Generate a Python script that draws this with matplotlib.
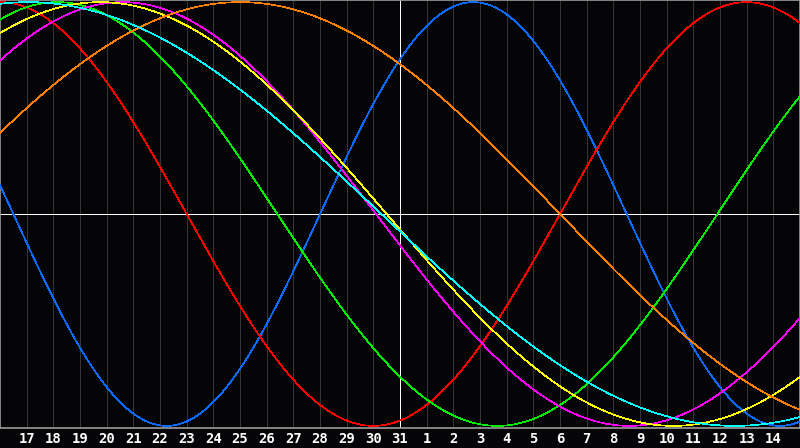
import numpy as np
import matplotlib
matplotlib.use("Agg")
import matplotlib.pyplot as plt

# biorhythm cycles: period in days and position in the cycle on the centre day (31)
cycles = ["Physical", "Emotional", "Intellectual", "Intuitive", "Aesthetic", "Awareness", "Spiritual"]
periods = [23, 28, 33, 38, 43, 48, 53]
phase_at_centre = [3.0, 22.0, 21.1, 19.9, 22.0, 18.0, 27.2]
colors = ["#0a6cff", "#ff0000", "#00ee00", "#ff00ff", "#ffff00", "#ff8000", "#00ffff"]

# day labels, from 14 days before to 14 days after the centre day
day_labels = [17, 18, 19, 20, 21, 22, 23, 24, 25, 26, 27, 28, 29, 30, 31,
              1, 2, 3, 4, 5, 6, 7, 8, 9, 10, 11, 12, 13, 14]
day_offsets = np.arange(-14, 15)

bg = "#050508"
px = 72 / 100  # one pixel in points
fig = plt.figure(figsize=(8, 4.48), dpi=100, facecolor=bg)
ax = fig.add_axes([0, 20 / 448, 1, 428 / 448], facecolor=bg)

# vertical day grid
for d in day_offsets:
    if d != 0:
        ax.axvline(d, color="#353535", lw=px, zorder=1, antialiased=False)
ax.axvline(0, color="white", lw=px, zorder=2, antialiased=False)
ax.axhline(0, color="white", lw=px, zorder=2, antialiased=False)

t = np.linspace(-15, 15, 1600)
for name, p, ph, c in zip(cycles, periods, phase_at_centre, colors):
    ax.plot(t, np.sin(2 * np.pi * (t + ph) / p), color=c, lw=0.5,
            label=name, zorder=3, antialiased=False)

ax.set_xlim(-15, 15)
ax.set_ylim(-1.01, 1.01)
ax.set_yticks([])
ax.set_xticks(day_offsets)
ax.set_xticklabels([str(d) for d in day_labels], color="white",
                   fontsize=10, fontweight="bold", family="DejaVu Sans Mono")
ax.tick_params(axis="x", length=0, pad=3)
for s in ax.spines.values():
    s.set_color("#9a9a9a")
    s.set_linewidth(1.2)

fig.savefig("out.png", dpi=100, facecolor=bg)
